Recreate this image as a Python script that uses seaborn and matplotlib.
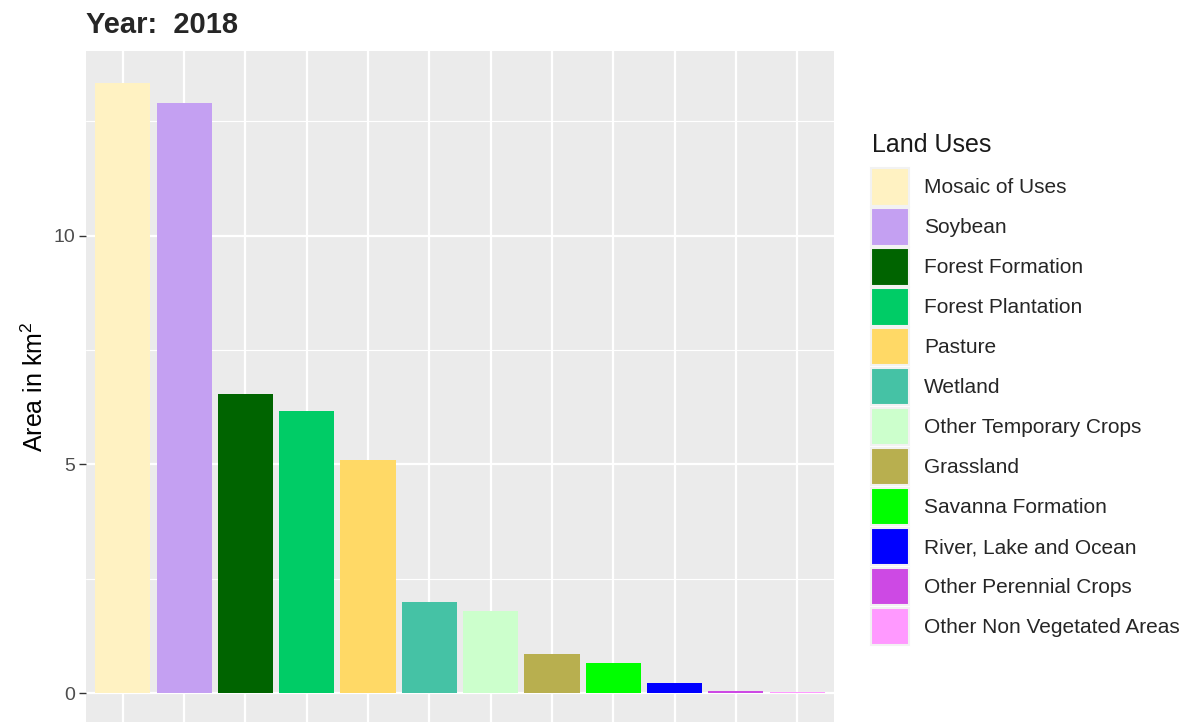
import matplotlib
matplotlib.use("Agg")
import matplotlib.pyplot as plt
import matplotlib.patches as mpatches
import seaborn as sns
import pandas as pd

land_uses = [
    "Mosaic of Uses", "Soybean", "Forest Formation", "Forest Plantation",
    "Pasture", "Wetland", "Other Temporary Crops", "Grassland",
    "Savanna Formation", "River, Lake and Ocean", "Other Perennial Crops",
    "Other Non Vegetated Areas",
]
areas = [13.33, 12.90, 6.54, 6.16, 5.09, 1.99, 1.80, 0.85, 0.67, 0.22, 0.04, 0.03]
colors = [
    "#FFF2C2", "#C4A0F2", "#006400", "#00CC66", "#FFD966", "#45C2A5",
    "#CCFFCC", "#B8AF4F", "#00FF00", "#0000FF", "#CD49E4", "#FF99FF",
]
year = 2018

df = pd.DataFrame({"land_use": land_uses, "area": areas})
palette = dict(zip(land_uses, colors))

sns.set_theme(style="darkgrid", rc={
    "axes.facecolor": "#EBEBEB",
    "grid.color": "white",
    "axes.axisbelow": True,
})
plt.rcParams["font.family"] = ["Liberation Sans", "DejaVu Sans"]
plt.rcParams["mathtext.default"] = "regular"

fig = plt.figure(figsize=(11.94, 7.22), dpi=100)
ax = fig.add_axes([86 / 1194, 0.0, (834 - 86) / 1194, 1 - 50.5 / 722])

sns.barplot(data=df, x="land_use", y="area", hue="land_use", palette=palette,
            order=land_uses, hue_order=land_uses, width=0.9, dodge=False,
            legend=False, saturation=1, linewidth=0, edgecolor="none", ax=ax)

ax.set_ylim(-0.63, 14.05)
ax.set_xlim(-0.6, len(land_uses) - 0.4)
ax.set_yticks([0, 5, 10])
ax.set_yticks([2.5, 7.5, 12.5], minor=True)
ax.grid(which="major", color="white", linewidth=1.6)
ax.grid(which="minor", axis="y", color="white", linewidth=0.8)
ax.set_xticks(range(len(land_uses)))
ax.set_xticklabels([])
ax.set_xlabel("")
ax.set_ylabel("Area in km$^{2}$", fontsize=18, color="black", labelpad=4)
ax.tick_params(axis="y", which="major", labelsize=14, labelcolor="#4D4D4D",
               color="#333333", length=5, width=1, left=True, pad=3)
ax.tick_params(axis="y", which="minor", left=False)
for s in ax.spines.values():
    s.set_visible(False)

fig.text(86 / 1194, 1 - 11 / 722, f"Year:  {year}", fontsize=21,
         fontweight="bold", va="top", ha="left")

# legend title placed separately so the gap to the keys matches
fig.text(872 / 1194, 1 - 145 / 722, "Land Uses", fontsize=18,
         va="center", ha="left", color="#1A1A1A")
handles = [mpatches.Patch(facecolor=c, edgecolor="#F2F2F2", linewidth=1.5, label=l)
           for l, c in zip(land_uses, colors)]
leg = fig.legend(handles=handles, loc="upper left",
                 bbox_to_anchor=(871 / 1194, 1 - 168.5 / 722), frameon=False,
                 fontsize=15, handlelength=1.83,
                 handleheight=2.36, labelspacing=0.14, handletextpad=0.72,
                 borderpad=0, borderaxespad=0)

fig.savefig("out.png", dpi=100)
